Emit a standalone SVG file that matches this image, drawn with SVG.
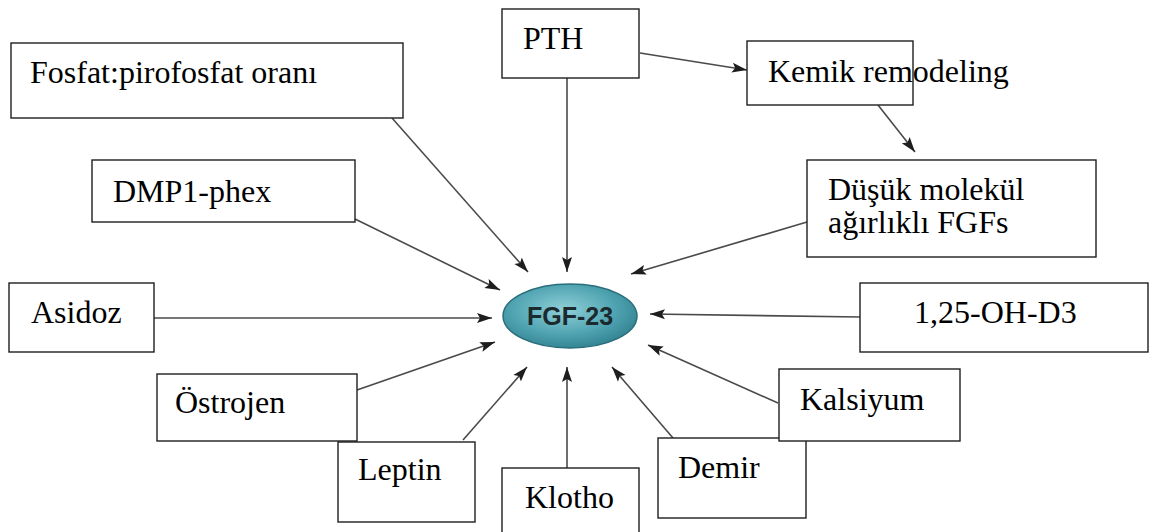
<svg xmlns="http://www.w3.org/2000/svg" width="1156" height="532" viewBox="0 0 1156 532">
  <style>
    .box{fill:#ffffff;stroke:#1e1e1e;stroke-width:1.4}
    .lbl{font-family:'Liberation Serif','Times New Roman',serif;font-size:32px;fill:#000}
    .con{stroke:#4a4a4a;stroke-width:1.6;fill:none;marker-end:url(#ah)}
  </style>
  <defs>
    <marker id="ah" markerUnits="userSpaceOnUse" markerWidth="16" markerHeight="12" refX="15" refY="6" orient="auto">
      <path d="M0,1 L15,6 L0,11 L3,6 Z" fill="#1e1e1e"/>
    </marker>
    <radialGradient id="eg" cx="0.45" cy="0.4" r="0.65">
      <stop offset="0" stop-color="#8fd0d8"/>
      <stop offset="0.6" stop-color="#4fa3b1"/>
      <stop offset="1" stop-color="#2f7f8e"/>
    </radialGradient>
  </defs>
  <rect width="1156" height="532" fill="#ffffff"/>

  <g id="connectors">
    <line class="con" x1="640" y1="53" x2="747" y2="70"/>
    <line class="con" x1="878" y1="105" x2="915" y2="152"/>
    <line class="con" x1="567" y1="78" x2="567" y2="272"/>
    <line class="con" x1="392" y1="118" x2="528" y2="272"/>
    <line class="con" x1="355" y1="219" x2="500" y2="290"/>
    <line class="con" x1="154" y1="318" x2="492" y2="318"/>
    <line class="con" x1="357" y1="390" x2="495" y2="342"/>
    <line class="con" x1="463" y1="440" x2="527" y2="367"/>
    <line class="con" x1="567" y1="468" x2="567" y2="367"/>
    <line class="con" x1="673" y1="438" x2="612" y2="367"/>
    <line class="con" x1="778" y1="403" x2="648" y2="345"/>
    <line class="con" x1="860" y1="317" x2="650" y2="314"/>
    <line class="con" x1="807" y1="222" x2="631" y2="274"/>
  </g>

  <g id="fgf23">
    <ellipse cx="570" cy="316" rx="67" ry="32" fill="url(#eg)" stroke="#2a6e7c" stroke-width="1.5"/>
    <text x="570" y="325" text-anchor="middle" font-family="'Liberation Sans',Arial,sans-serif" font-weight="bold" font-size="25" fill="#1b2a2e">FGF-23</text>
  </g>

  <g id="fosfat">
    <rect class="box" x="11" y="43" width="392" height="75"/>
    <text class="lbl" font-family="Liberation Serif" x="30" y="83">Fosfat:pirofosfat oranı</text>
  </g>
  <g id="pth">
    <rect class="box" x="502" y="9" width="137" height="69"/>
    <text class="lbl" font-family="Liberation Serif" x="523" y="49">PTH</text>
  </g>
  <g id="kemik">
    <rect class="box" x="747" y="41" width="166" height="64"/>
    <text class="lbl" font-family="Liberation Serif" x="768" y="82">Kemik remodeling</text>
  </g>
  <g id="dusuk">
    <rect class="box" x="807" y="160" width="289" height="97"/>
    <text class="lbl" font-family="Liberation Serif" x="828" y="200">Düşük molekül</text>
    <text class="lbl" font-family="Liberation Serif" x="828" y="233">ağırlıklı FGFs</text>
  </g>
  <g id="dmp1">
    <rect class="box" x="92" y="160" width="263" height="62"/>
    <text class="lbl" font-family="Liberation Serif" x="113" y="202">DMP1-phex</text>
  </g>
  <g id="asidoz">
    <rect class="box" x="9" y="283" width="145" height="69"/>
    <text class="lbl" font-family="Liberation Serif" x="31" y="323">Asidoz</text>
  </g>
  <g id="d3">
    <rect class="box" x="860" y="283" width="288" height="69"/>
    <text class="lbl" font-family="Liberation Serif" x="914" y="323">1,25-OH-D3</text>
  </g>
  <g id="ostrojen">
    <rect class="box" x="157" y="374" width="200" height="67"/>
    <text class="lbl" font-family="Liberation Serif" x="175" y="413">Östrojen</text>
  </g>
  <g id="leptin">
    <rect class="box" x="338" y="442" width="137" height="80"/>
    <text class="lbl" font-family="Liberation Serif" x="358" y="480">Leptin</text>
  </g>
  <g id="klotho">
    <rect class="box" x="502" y="468" width="137" height="80"/>
    <text class="lbl" font-family="Liberation Serif" x="525" y="508">Klotho</text>
  </g>
  <g id="demir">
    <rect class="box" x="658" y="438" width="148" height="80"/>
    <text class="lbl" font-family="Liberation Serif" x="678" y="478">Demir</text>
  </g>
  <g id="kalsiyum">
    <rect class="box" x="779" y="369" width="181" height="72"/>
    <text class="lbl" font-family="Liberation Serif" x="800" y="410">Kalsiyum</text>
  </g>
</svg>
